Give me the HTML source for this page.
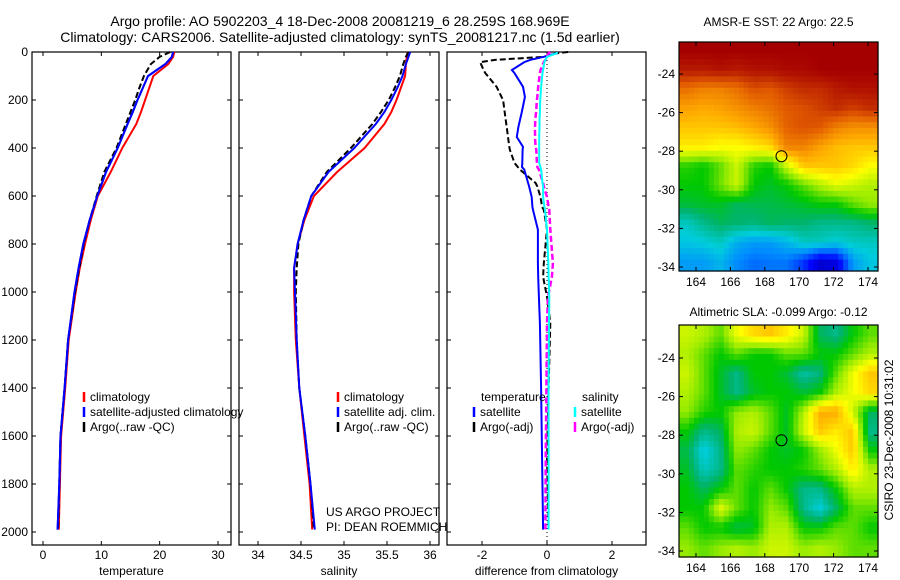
<!DOCTYPE html>
<html><head><meta charset="utf-8"><style>
body{margin:0;background:#fff;}
svg{display:block;font-family:"Liberation Sans",sans-serif;}
</style></head><body>
<svg id="fig" width="900" height="580" viewBox="0 0 900 580" xmlns="http://www.w3.org/2000/svg">
<text x="340" y="26" font-size="14" text-anchor="middle">Argo profile: AO 5902203_4 18-Dec-2008 20081219_6 28.259S 168.969E</text>
<text x="340" y="42" font-size="14" text-anchor="middle">Climatology: CARS2006. Satellite-adjusted climatology: synTS_20081217.nc (1.5d earlier)</text>
<g id="layer"></g>
</svg>
<script>
// ---------- data ----------
const depths = [0,20,50,100,150,200,250,300,400,500,600,700,800,900,1000,1200,1400,1600,1800,1990];
const tempClim = [22.5,22.3,21.5,18.9,18.2,17.5,16.8,16.0,13.6,11.6,9.4,8.2,7.2,6.3,5.6,4.4,3.8,3.1,2.9,2.7];
const tempSat  = [22.3,22.1,21.0,18.0,17.1,16.2,15.4,14.5,12.8,10.8,9.3,8.0,6.9,6.1,5.4,4.3,3.7,3.0,2.8,2.5];
const tempArgo = [21.8,20.0,18.5,17.3,16.5,15.8,15.0,14.2,12.6,10.5,9.2,8.0,7.0,6.2,5.5,4.3,3.7,3.0,2.8,2.6];
const salClim = [35.74,35.73,35.72,35.71,35.66,35.61,35.55,35.47,35.24,34.92,34.65,34.54,34.46,34.42,34.42,34.44,34.48,34.54,34.60,34.63];
const salSat  = [35.77,35.75,35.72,35.68,35.62,35.55,35.47,35.37,35.12,34.82,34.62,34.53,34.46,34.42,34.43,34.45,34.48,34.55,34.61,34.66];
const salArgo = [35.75,35.72,35.69,35.65,35.59,35.52,35.43,35.33,35.08,34.80,34.62,34.53,34.47,34.45,34.44,34.45,34.48,34.55,34.61,34.65];
const diffDepths = [0,5,20,33,42,75,88,145,187,200,254,283,312,354,395,408,462,479,490,546,560,604,645,658,740,880,937,1020,1130,1400,1700,1990];
const dTempSat  = [0.3,0.3,-0.1,-0.52,-0.7,-1.08,-1.0,-0.74,-0.68,-0.7,-0.78,-0.83,-0.88,-0.93,-0.74,-0.75,-0.76,-0.77,-0.7,-0.58,-0.55,-0.47,-0.45,-0.43,-0.28,-0.28,-0.27,-0.25,-0.22,-0.18,-0.15,-0.12];
const dTempArgo = [0.65,0.3,-0.1,-1.6,-2.06,-1.95,-1.9,-1.55,-1.4,-1.35,-1.3,-1.27,-1.24,-1.2,-1.16,-1.14,-1.0,-0.9,-0.83,-0.35,-0.3,-0.2,-0.15,-0.1,0.0,-0.1,-0.12,0.0,0.1,0.05,0.0,0.05];
const dSalSat   = [0.3,0.3,0.0,-0.05,-0.08,-0.12,-0.14,-0.18,-0.2,-0.21,-0.22,-0.23,-0.23,-0.24,-0.24,-0.24,-0.24,-0.2,-0.18,-0.14,-0.12,-0.12,-0.08,-0.06,0.0,0.04,0.05,0.07,0.06,0.05,0.05,0.05];
const dSalArgo  = [0.1,0.05,0.0,-0.05,-0.1,-0.2,-0.22,-0.27,-0.3,-0.31,-0.34,-0.36,-0.37,-0.37,-0.35,-0.33,-0.31,-0.3,-0.25,-0.12,-0.1,0.0,0.05,0.07,0.1,0.18,0.15,0.03,0.0,-0.02,-0.04,-0.05];
const depthTicks = [0,200,400,600,800,1000,1200,1400,1600,1800,2000];
const tempTicks = [0,10,20,30];
const salTicks = [34,34.5,35,35.5,36];
const diffTicks = [-2,0,2];
const lonTicks = [164,166,168,170,172,174];
const latTicks = [-24,-26,-28,-30,-32,-34];
const sstGrid = [
[0.95,0.95,0.95,0.95,0.95,0.95,0.95,0.95,0.95,0.95,0.95,0.95],
[0.92,0.92,0.93,0.92,0.93,0.93,0.94,0.94,0.95,0.95,0.95,0.95],
[0.82,0.8,0.8,0.82,0.86,0.85,0.88,0.9,0.9,0.92,0.93,0.93],
[0.76,0.75,0.76,0.78,0.8,0.82,0.85,0.86,0.88,0.9,0.88,0.9],
[0.72,0.72,0.72,0.73,0.75,0.78,0.84,0.86,0.85,0.8,0.78,0.78],
[0.68,0.68,0.66,0.66,0.68,0.7,0.8,0.8,0.76,0.73,0.72,0.72],
[0.52,0.5,0.55,0.62,0.52,0.5,0.62,0.72,0.72,0.72,0.7,0.66],
[0.5,0.5,0.56,0.62,0.5,0.48,0.5,0.55,0.6,0.64,0.62,0.6],
[0.47,0.48,0.48,0.45,0.46,0.46,0.47,0.48,0.5,0.5,0.55,0.58],
[0.38,0.42,0.45,0.44,0.43,0.45,0.44,0.44,0.42,0.42,0.42,0.44],
[0.35,0.36,0.38,0.32,0.3,0.3,0.33,0.38,0.38,0.36,0.38,0.38],
[0.3,0.3,0.33,0.28,0.25,0.26,0.26,0.2,0.1,0.12,0.3,0.35]];
const slaGrid = [
[0.62,0.6,0.55,0.65,0.7,0.72,0.68,0.62,0.45,0.42,0.5,0.55],
[0.6,0.55,0.5,0.55,0.5,0.5,0.55,0.55,0.5,0.5,0.55,0.6],
[0.62,0.55,0.48,0.42,0.5,0.5,0.47,0.4,0.43,0.55,0.65,0.72],
[0.6,0.55,0.48,0.42,0.48,0.5,0.5,0.47,0.5,0.6,0.65,0.7],
[0.58,0.52,0.5,0.58,0.6,0.55,0.48,0.6,0.75,0.75,0.62,0.45],
[0.5,0.42,0.45,0.6,0.62,0.55,0.48,0.62,0.72,0.68,0.72,0.42],
[0.46,0.35,0.42,0.58,0.55,0.5,0.48,0.5,0.58,0.65,0.72,0.5],
[0.48,0.38,0.42,0.55,0.52,0.5,0.5,0.52,0.55,0.6,0.68,0.6],
[0.5,0.45,0.5,0.55,0.5,0.55,0.5,0.42,0.42,0.5,0.6,0.6],
[0.5,0.5,0.64,0.55,0.5,0.58,0.55,0.42,0.36,0.45,0.55,0.55],
[0.55,0.5,0.5,0.46,0.48,0.6,0.6,0.5,0.5,0.55,0.55,0.5],
[0.58,0.55,0.58,0.6,0.58,0.62,0.62,0.58,0.6,0.58,0.55,0.55]];
const floatLon = 168.969, floatLat = -28.259;

// ---------- helpers ----------
const NS="http://www.w3.org/2000/svg";
const layer=document.getElementById('layer');
function mk(tag,attrs,parent){const e=document.createElementNS(NS,tag);for(const k in attrs)e.setAttribute(k,attrs[k]);(parent||layer).appendChild(e);return e;}
const top0=52, bot=545;
const yD = d => top0 + d*0.24;
function lin(d0,d1,r0,r1){return v=>r0+(v-d0)*(r1-r0)/(d1-d0);}
const xT = lin(0,30,43,218);
const xS = lin(34,36,258,430);
const xDf = lin(-2,2,482,612);

function panel(name,x0,x1,xf,ticks,fmt,xlabel,showY){
  const g=mk('g',{});
  
  
  const r=mk('rect',{x:x0,y:top0,width:x1-x0,height:bot-top0,fill:'#fff',stroke:'#000','stroke-width':1.2},g);
  
  
  depthTicks.forEach(d=>{
    const y=yD(d);
    mk('line',{x1:x0,x2:x0+4,y1:y,y2:y,stroke:'#000'},g);
    mk('line',{x1:x1-4,x2:x1,y1:y,y2:y,stroke:'#000'},g);
    if(showY){const t=mk('text',{x:x0-4,y:y+4,'font-size':12,'text-anchor':'end'},g);t.textContent=d;
      
      }
  });
  ticks.forEach(v=>{
    const x=xf(v);
    mk('line',{x1:x,x2:x,y1:bot,y2:bot-4,stroke:'#000'},g);
    mk('line',{x1:x,x2:x,y1:top0,y2:top0+4,stroke:'#000'},g);
    const t=mk('text',{x:x,y:559,'font-size':12,'text-anchor':'middle'},g);t.textContent=fmt(v);
    
    
  });
  const t=mk('text',{x:(x0+x1)/2,y:575,'font-size':12,'text-anchor':'middle'},g);t.textContent=xlabel;
  
  
  return g;
}
function series(g,name,ds,vals,xf,color,dash,w){
  const p=mk('polyline',{points:ds.map((d,i)=>xf(vals[i]).toFixed(1)+','+yD(d).toFixed(1)).join(' '),fill:'none',stroke:color,'stroke-width':w||2,'stroke-dasharray':dash||'none'},g);
  
  
}
function legend(g,x,y,color,label,nm){
  const l=mk('line',{x1:x,x2:x,y1:y-9,y2:y+1,stroke:color,'stroke-width':2.5},g);
  
  
  const t=mk('text',{x:x+6,y:y,'font-size':12},g);t.textContent=label;
  
  
}

const gT=panel('temperature-panel',32,231,xT,tempTicks,v=>v,'temperature',true);
series(gT,'temp-climatology-line',depths,tempClim,xT,'#f00');
series(gT,'temp-satellite-line',depths,tempSat,xT,'#00f');
series(gT,'temp-argo-line',depths,tempArgo,xT,'#000','6,3');
series(gT,'temp-satellite-line-top',depths,tempSat,xT,'#00f');

const gS=panel('salinity-panel',239,439,xS,salTicks,v=>v,'salinity',false);
series(gS,'sal-climatology-line',depths,salClim,xS,'#f00');
series(gS,'sal-argo-line',depths,salArgo,xS,'#000','6,3');
series(gS,'sal-satellite-line',depths,salSat,xS,'#00f');

const gD=panel('difference-panel',447,646,xDf,diffTicks,v=>v,'difference from climatology',false);
mk('line',{x1:xDf(0),x2:xDf(0),y1:top0,y2:bot,stroke:'#000','stroke-dasharray':'1,3'},gD);
series(gD,'diff-temp-argo-line',diffDepths,dTempArgo,xDf,'#000','6,3');
series(gD,'diff-temp-satellite-line',diffDepths,dTempSat,xDf,'#00f');
series(gD,'diff-sal-argo-line',diffDepths,dSalArgo,xDf,'#f0f','6,3',2.5);
series(gD,'diff-sal-satellite-line',diffDepths,dSalSat,xDf,'#0ff');

const gL=mk('g',{});


legend(gL,84,401,'#f00','climatology','legend-climatology');
legend(gL,84,416,'#00f','satellite-adjusted climatology','legend-satellite-adjusted');
legend(gL,84,431,'#000','Argo(..raw -QC)','legend-argo-raw');
legend(gL,338,401,'#f00','climatology','legend-sal-climatology');
legend(gL,338,416,'#00f','satellite adj. clim.','legend-sal-satellite');
legend(gL,338,431,'#000','Argo(..raw -QC)','legend-sal-argo');
{const t=mk('text',{x:481,y:401,'font-size':12},gL);t.textContent='temperature';
 
 
 const t2=mk('text',{x:582,y:401,'font-size':12},gL);t2.textContent='salinity';
 
 }
legend(gL,474,416,'#00f','satellite','legend-diff-temp-satellite');
legend(gL,474,431,'#000','Argo(-adj)','legend-diff-temp-argo');
legend(gL,575,416,'#0ff','satellite','legend-diff-sal-satellite');
legend(gL,575,431,'#f0f','Argo(-adj)','legend-diff-sal-argo');
{const t=mk('text',{x:326,y:516,'font-size':12},gL);t.textContent='US ARGO PROJECT';
 
 
 const t2=mk('text',{x:326,y:531,'font-size':12},gL);t2.textContent='PI: DEAN ROEMMICH';
 
 }

// ---------- maps ----------
const cmapStops=[[0,0,0,120],[0.15,0,0,255],[0.28,0,140,255],[0.36,0,205,220],[0.44,0,180,110],[0.5,0,200,0],[0.58,150,235,0],[0.66,255,255,0],[0.75,255,170,0],[0.85,225,90,0],[0.95,165,0,0],[1,140,0,0]];
function cmap(f){
  f=Math.max(0,Math.min(1,f));
  for(let i=1;i<cmapStops.length;i++){
    const a=cmapStops[i-1],b=cmapStops[i];
    if(f<=b[0]){const t=(f-a[0])/(b[0]-a[0]);
      return 'rgb('+[1,2,3].map(k=>Math.round(a[k]+(b[k]-a[k])*t)).join(',')+')';}
  }
  return 'rgb(140,0,0)';
}
function drawMap(name,grid,x0,x1,y0,y1,latY0,title,titleY){
  const g=mk('g',{});
  
  
  const lonX=lin(164,174,696,868);
  const latY=lin(-24,-34,latY0,latY0+193);
  const nr=grid.length,nc=grid[0].length;
  const N=40;
  const cw=(x1-x0)/N,ch=(y1-y0)/N;
  for(let i=0;i<N;i++)for(let j=0;j<N;j++){
    const gy=(i+0.5)/N*nr-0.5, gx=(j+0.5)/N*nc-0.5;
    const r0=Math.max(0,Math.min(nr-1,Math.floor(gy))), r1=Math.min(nr-1,r0+1);
    const c0=Math.max(0,Math.min(nc-1,Math.floor(gx))), c1=Math.min(nc-1,c0+1);
    const fy=Math.max(0,Math.min(1,gy-r0)), fx=Math.max(0,Math.min(1,gx-c0));
    const v=(grid[r0][c0]*(1-fx)+grid[r0][c1]*fx)*(1-fy)+(grid[r1][c0]*(1-fx)+grid[r1][c1]*fx)*fy;
    const cell=mk('rect',{x:(x0+j*cw).toFixed(2),y:(y0+i*ch).toFixed(2),width:(cw+0.6).toFixed(2),height:(ch+0.6).toFixed(2),fill:cmap(v)},g);
    
    
  }
  const fr=mk('rect',{x:x0,y:y0,width:x1-x0,height:y1-y0,fill:'none',stroke:'#000','stroke-width':1.2},g);
  
  
  lonTicks.forEach(v=>{const x=lonX(v);
    mk('line',{x1:x,x2:x,y1:y1,y2:y1-4,stroke:'#000'},g);
    mk('line',{x1:x,x2:x,y1:y0,y2:y0+4,stroke:'#000'},g);
    const t=mk('text',{x:x,y:y1+15,'font-size':12,'text-anchor':'middle'},g);t.textContent=v;
    
    });
  latTicks.forEach(v=>{const y=latY(v);
    mk('line',{x1:x0,x2:x0+4,y1:y,y2:y,stroke:'#000'},g);
    mk('line',{x1:x1-4,x2:x1,y1:y,y2:y,stroke:'#000'},g);
    const t=mk('text',{x:x0-4,y:y+4,'font-size':12,'text-anchor':'end'},g);t.textContent=v;
    
    });
  const c=mk('circle',{cx:lonX(floatLon),cy:latY(floatLat),r:5.5,fill:'none',stroke:'#000','stroke-width':1},g);
  
  
  const t=mk('text',{x:(x0+x1)/2,y:titleY,'font-size':12,'text-anchor':'middle'},g);t.textContent=title;
  
  
}
drawMap('sst-map',sstGrid,679,878,42,271,74,'AMSR-E SST: 22 Argo: 22.5',26);
drawMap('sla-map',slaGrid,679,878,325,557,358,'Altimetric SLA: -0.099 Argo: -0.12',316);
{const t=mk('text',{x:0,y:0,'font-size':12,'text-anchor':'middle',transform:'translate(893,440) rotate(-90)'});
 t.textContent='CSIRO 23-Dec-2008 10:31:02';
 
 }
</script>
</body></html>
